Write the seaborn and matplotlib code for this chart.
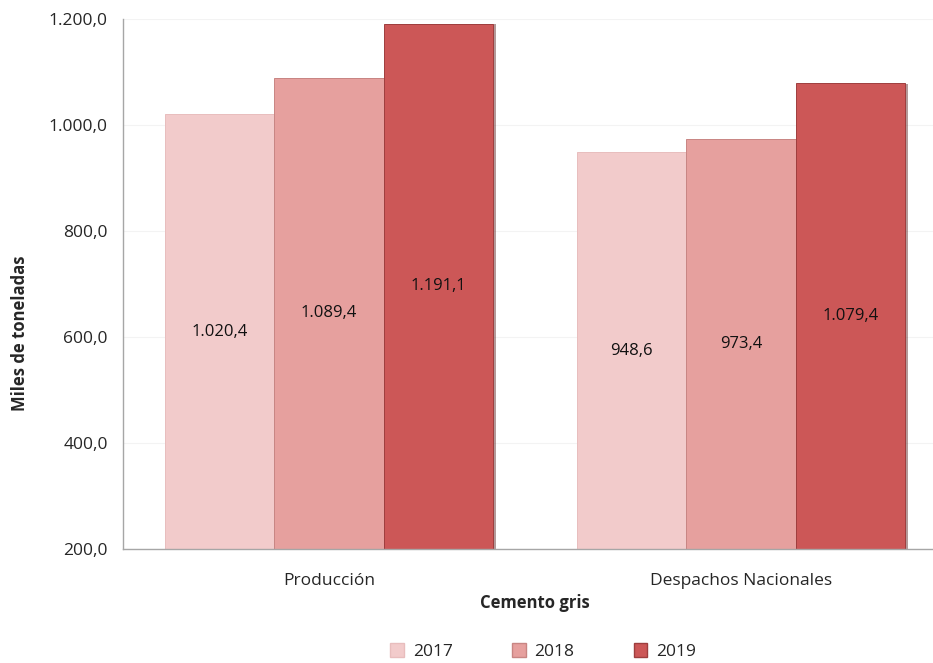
import numpy as np
import pandas as pd
import matplotlib
matplotlib.use("Agg")
import matplotlib.pyplot as plt
import matplotlib.patheffects as pe
from matplotlib.patches import Patch
import seaborn as sns

categorias = ["Producción", "Despachos Nacionales"]
anios = ["2017", "2018", "2019"]
valores_2017 = [1020.4, 948.6]
valores_2018 = [1089.4, 973.4]
valores_2019 = [1191.1, 1079.4]
colores = ["#F2CBCB", "#E6A09E", "#CC5757"]
bordes = ["#E8BDBD", "#C88583", "#9E3E3E"]

def formato_es(v):
    # 1020.4 -> 1.020,4
    s = "{:,.1f}".format(v)
    return s.replace(",", "X").replace(".", ",").replace("X", ".")

df = pd.DataFrame({
    "categoria": categorias * 3,
    "anio": [a for a in anios for _ in categorias],
    "valor": valores_2017 + valores_2018 + valores_2019,
})

sns.set_style("white")
plt.rcParams["font.family"] = ["Open Sans", "DejaVu Sans"]

fig = plt.figure(figsize=(9.33, 6.63), dpi=100)
ax = fig.add_axes([123 / 933, 114 / 663, 824 / 933, 530 / 663])

sns.barplot(data=df, x="categoria", y="valor", hue="anio", order=categorias,
            hue_order=anios, palette=colores, width=0.795, ax=ax,
            legend=False, saturation=1)

base = 200
for cont, borde in zip(ax.containers, bordes):
    for barra in cont:
        barra.set_edgecolor(borde)
        barra.set_linewidth(0.7)
        barra.set_path_effects([pe.SimplePatchShadow(offset=(2.0, -0.5), shadow_rgbFace="#5A2020", alpha=0.45),
                                pe.Normal()])
        h = barra.get_height()
        ax.text(barra.get_x() + barra.get_width() / 2, (h + base) / 2, formato_es(h),
                ha="center", va="center", fontsize=12, color="#111111")

ax.set_ylim(200, 1200)
ax.set_xlim(-0.5, 1.5)
ax.set_yticks(np.arange(200, 1201, 200))
ax.set_yticklabels([formato_es(v) for v in np.arange(200, 1201, 200)], fontsize=12.5)
ax.set_xticks([0, 1])
ax.set_xticklabels(categorias, fontsize=12.5)
ax.set_xticks([-0.5, 0.5, 1.5], minor=True)
ax.tick_params(axis="x", which="major", length=0, pad=17)
ax.tick_params(axis="x", which="minor", length=5, color="#A6A6A6", direction="out")
ax.tick_params(axis="y", length=5, color="#A6A6A6", direction="out", pad=6)
ax.yaxis.grid(True, color="#F3F3F3", linewidth=0.8)
ax.set_axisbelow(True)
for lado in ["top", "right"]:
    ax.spines[lado].set_visible(False)
for lado in ["left", "bottom"]:
    ax.spines[lado].set_color("#A6A6A6")
    ax.spines[lado].set_linewidth(1.0)

ax.set_xlabel("Cemento gris", fontsize=12, fontweight="bold")
ax.xaxis.set_label_coords(0.5, -0.084)
ax.set_ylabel("Miles de toneladas", fontsize=12, fontweight="bold")
ax.yaxis.set_label_coords(-0.114, 0.408)

manijas = [Patch(facecolor=c, edgecolor=b, label=a) for c, b, a in zip(colores, bordes, anios)]
ax.legend(handles=manijas, loc="center", bbox_to_anchor=(0.51, -0.194), ncol=3,
          frameon=False, fontsize=12.5, handlelength=0.8, handleheight=0.8,
          handletextpad=0.5, columnspacing=3.4)

fig.savefig("out.png", dpi=100)
